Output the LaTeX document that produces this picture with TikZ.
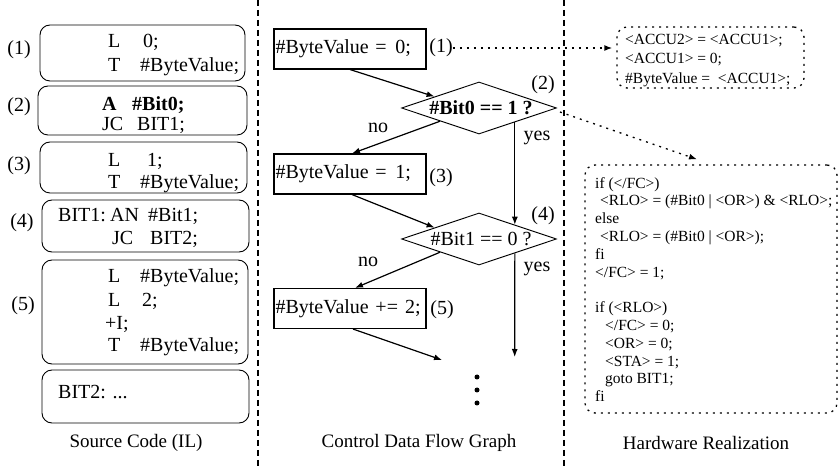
\documentclass[tikz,border=0pt]{standalone}
\usepackage{fontspec}
\setmainfont{Liberation Serif}
\usetikzlibrary{shapes.geometric,arrows.meta,calc}

\newcommand\codesz{\fontsize{20}{24}\selectfont}
\newcommand\hwsz{\fontsize{15.5}{17.8}\selectfont}
\newcommand\hwtopsz{\fontsize{15.5}{19.5}\selectfont}
\newcommand\capsz{\fontsize{19}{23}\selectfont}

\begin{document}
\begin{tikzpicture}[x=1pt,y=-1pt,
  codebox/.style={draw, rounded corners=10pt, line width=0.9pt, inner sep=0pt},
  cfgbox/.style={draw, line width=1.1pt, inner xsep=1.5pt, inner ysep=0pt,
    text width=149pt, minimum height=40pt, align=left, font=\codesz},
  decision/.style={diamond, draw, line width=0.9pt, minimum width=155pt,
    minimum height=52pt, inner sep=0pt},
  flow/.style={line width=1.2pt, -{Latex[length=8pt,width=6pt]}},
  hint/.style={line width=1.3pt, dash pattern=on 2pt off 5pt,
    -{Latex[length=8pt,width=6pt]}},
  hwbox/.style={draw, line width=1.3pt, dash pattern=on 2pt off 5pt,
    rounded corners=10pt, inner sep=0pt},
  divider/.style={line width=1.1pt, dash pattern=on 6pt off 4pt},
  code/.style={anchor=base west, inner sep=0pt, font=\codesz},
  lbl/.style={inner sep=0pt, font=\codesz},
  caption/.style={inner sep=0pt, font=\capsz},
  dot/.style={circle, fill, inner sep=0pt, minimum size=5pt}]

\useasboundingbox (0,0) rectangle (839,470);

% column dividers
\coordinate (divAtop) at (258,0);
\coordinate (divAbot) at (258,470);
\coordinate (divBtop) at (564,0);
\coordinate (divBbot) at (564,470);
\draw[divider] (divAtop) -- (divAbot);
\draw[divider] (divBtop) -- (divBbot);

% ---------------- source code (IL) ----------------
\node[codebox, minimum width=205pt, minimum height=56pt] (s1) at (142.5,53) {};
\node[codebox, minimum width=209pt, minimum height=49pt] (s2) at (142.5,110.5) {};
\node[codebox, minimum width=207pt, minimum height=51pt] (s3) at (143.5,167.5) {};
\node[codebox, minimum width=207pt, minimum height=52pt] (s4) at (145.5,226) {};
\node[codebox, minimum width=206pt, minimum height=104pt] (s5) at (145,312) {};
\node[codebox, minimum width=207pt, minimum height=53pt] (s6) at (145.5,396.5) {};

\node[lbl] (n1) at (19,50) {(1)};
\node[lbl] (n2) at (19,107) {(2)};
\node[lbl] (n3) at (19,166) {(3)};
\node[lbl] (n4) at (22,223) {(4)};
\node[lbl] (n5) at (23,306) {(5)};

\node[code] (c1a) at (108,48) {L};
\node[code] (c1b) at (143,48) {0;};
\node[code] (c1c) at (108,72) {T};
\node[code] (c1d) at (140,72) {\#ByteValue;};

\node[code, font=\codesz\bfseries] (c2a) at (102,111) {A};
\node[code, font=\codesz\bfseries] (c2b) at (132,111) {\#Bit0;};
\node[code] (c2c) at (102,131) {JC};
\node[code] (c2d) at (137,131) {BIT1;};

\node[code] (c3a) at (108,167) {L};
\node[code] (c3b) at (147,167) {1;};
\node[code] (c3c) at (108,189) {T};
\node[code] (c3d) at (140,189) {\#ByteValue;};

\node[code] (c4a) at (58,222) {BIT1:};
\node[code] (c4b) at (110,222) {AN};
\node[code] (c4c) at (148,222) {\#Bit1;};
\node[code] (c4d) at (112,245) {JC};
\node[code] (c4e) at (150,245) {BIT2;};

\node[code] (c5a) at (108,283) {L};
\node[code] (c5b) at (140,283) {\#ByteValue;};
\node[code] (c5c) at (108,307) {L};
\node[code] (c5d) at (142,307) {2;};
\node[code] (c5e) at (105,330) {+I;};
\node[code] (c5f) at (108,352) {T};
\node[code] (c5g) at (140,352) {\#ByteValue;};

\node[code] (c6a) at (58,399) {BIT2: ...};

\node[caption] (capA) at (136,443) {Source Code (IL)};

% ---------------- control data flow graph ----------------
\node[cfgbox] (b1) at (350,49) {\mbox{\#ByteValue = \hspace{2pt}0;}};
\node[decision] (d1) at (479,108) {};
\node[lbl, font=\codesz\bfseries] (d1t) at ([xshift=2pt]d1.center) {\#Bit0 == 1 ?};
\node[cfgbox] (b2) at (350,174) {\mbox{\#ByteValue = \hspace{2pt}1;}};
\node[decision] (d2) at (479,239) {};
\node[lbl] (d2t) at ([xshift=2pt]d2.center) {\#Bit1 == 0 ?};
\node[cfgbox] (b3) at (350,308.5) {\mbox{\#ByteValue += \hspace{0.5pt}2;}};

\node[lbl] (m1) at (441,48) {(1)};
\node[lbl] (m2) at (543,85) {(2)};
\node[lbl] (m3) at (441,178) {(3)};
\node[lbl] (m4) at (543,216) {(4)};
\node[lbl] (m5) at (442,310) {(5)};

\node[lbl] (no1) at (378,128) {no};
\node[lbl] (yes1) at (537,138) {yes};
\node[lbl] (no2) at (368,262) {no};
\node[lbl] (yes2) at (537,269) {yes};

\coordinate (end1) at (442,360);
\coordinate (end2) at (514.7,357);

\draw[flow] (b1.south) -- ($(d1.north)!0.57!(d1.west)$);
\draw[flow] ($(d1.south)!0.5!(d1.west)$) -- ([xshift=2pt]b2.north);
\draw[flow] ($(d1.south)!0.46!(d1.east)$) -- ($(d2.north)!0.46!(d2.east)$);
\draw[flow] ([xshift=2pt]b2.south) -- ($(d2.north)!0.57!(d2.west)$);
\draw[flow] ($(d2.south)!0.5!(d2.west)$) -- ([xshift=5pt]b3.north);
\draw[flow] ($(d2.south)!0.46!(d2.east)$) -- (end2);
\draw[flow] ([xshift=3pt]b3.south) -- (end1);

\node[dot] (dot1) at (477,377) {};
\node[dot] (dot2) at (477,390) {};
\node[dot] (dot3) at (477,403) {};

\node[caption] (capB) at (419,443) {Control Data Flow Graph};

% ---------------- hardware realization ----------------
\node[hwbox, minimum width=187pt, minimum height=61pt] (h1) at (710.5,57.5) {};
\node[anchor=north west, align=left, inner sep=0pt, font=\hwtopsz] (h1t) at (625,34)
  {<ACCU2> = <ACCU1>;\\<ACCU1> = 0;\\\#ByteValue = \ <ACCU1>;};

\node[hwbox, minimum width=252pt, minimum height=248pt] (h2) at (711,289) {};
\node[anchor=north west, align=left, inner sep=0pt, font=\hwsz] (h2t) at (595,177)
  {if (</FC>)\\
   \hspace*{5pt}<RLO> = (\#Bit0 | <OR>) \& <RLO>;\\
   else\\
   \hspace*{5pt}<RLO> = (\#Bit0 | <OR>);\\
   fi\\
   </FC> = 1;\\
   \strut\\
   if (<RLO>)\\
   \hspace*{10pt}</FC> = 0;\\
   \hspace*{10pt}<OR> = 0;\\
   \hspace*{10pt}<STA> = 1;\\
   \hspace*{10pt}goto BIT1;\\
   fi};

\draw[hint] (m1.east) -- ([xshift=-4pt]m1.east -| h1.west);
\draw[hint] ([xshift=3pt,yshift=-4pt]d1.east) -- ([xshift=-14pt,yshift=5pt]h2.north);

\node[caption] (capC) at (706,443) {Hardware Realization};
\end{tikzpicture}
\end{document}
